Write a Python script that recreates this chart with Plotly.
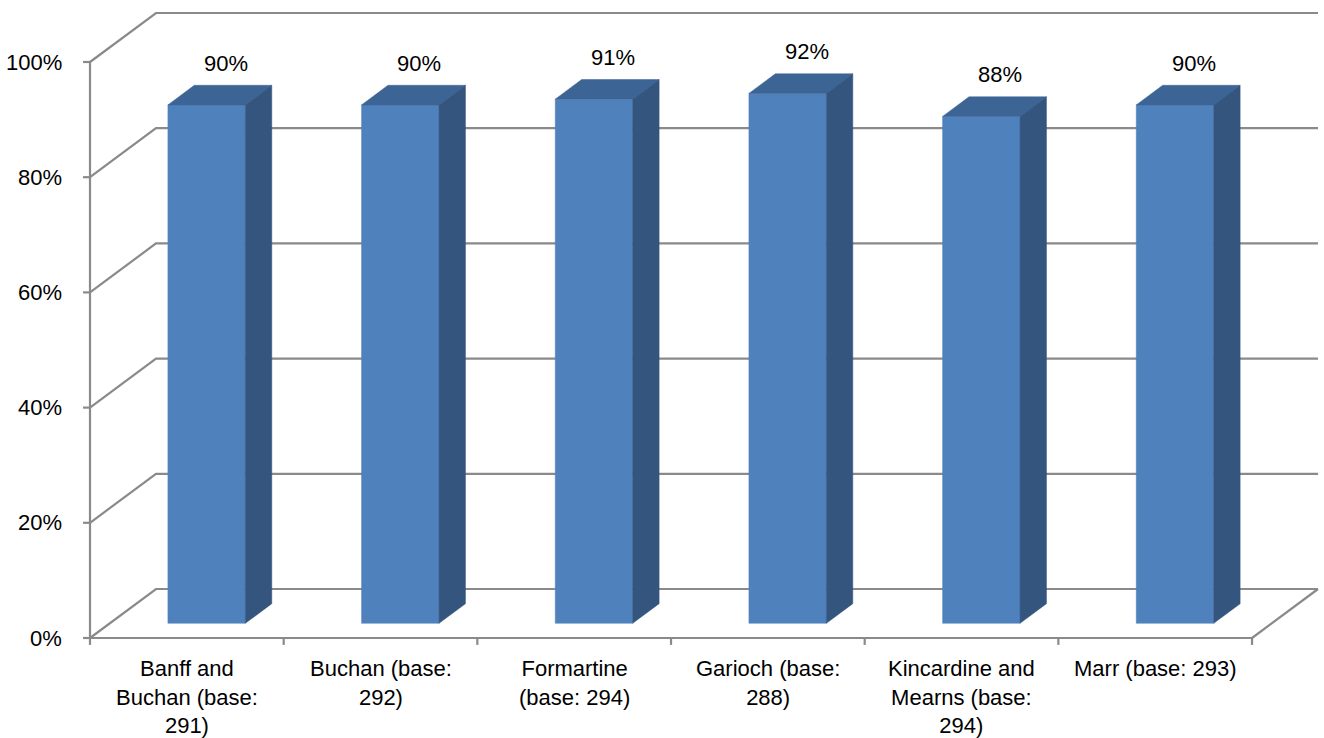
import plotly.graph_objects as go

# Survey results by area (share of respondents, %)
categories = [
    "Banff and<br>Buchan (base:<br>291)",
    "Buchan (base:<br>292)",
    "Formartine<br>(base: 294)",
    "Garioch (base:<br>288)",
    "Kincardine and<br>Mearns (base:<br>294)",
    "Marr (base: 293)",
]
values = [90, 90, 91, 92, 88, 90]
y_ticks = [0, 20, 40, 60, 80, 100]
y_tick_labels = ["0%", "20%", "40%", "60%", "80%", "100%"]

# Oblique 3D projection: depth offset per unit of depth, in axis units
DX = 0.3408   # horizontal shift of the back wall (category units)
DY = 8.507    # vertical shift of the back wall (percent units)
BAR_HALF = 0.2
D_FRONT, D_BACK = 0.3, 0.7

GRID = "#8a8a8a"
FRONT = "#4f81bd"
TOP = "#3c6494"
SIDE = "#34557e"
FONT = "Liberation Sans"

n = len(categories)
fig = go.Figure()


def line(xs, ys, color=GRID, width=2.2):
    fig.add_trace(go.Scatter(x=xs, y=ys, mode="lines",
                             line=dict(color=color, width=width),
                             hoverinfo="skip", showlegend=False))


def poly(xs, ys, color):
    fig.add_trace(go.Scatter(x=xs + [xs[0]], y=ys + [ys[0]], mode="lines",
                             fill="toself", fillcolor=color,
                             line=dict(color=color, width=0.5),
                             hoverinfo="skip", showlegend=False))


# Left wall diagonals and back wall gridlines
for t in y_ticks:
    line([0, DX, n + DX], [t, t + DY, t + DY])

# Floor: right edge
line([n, n + DX], [0, DY])

# Bars (front face, top, right side)
for i, v in enumerate(values):
    c = i + 0.5
    xl, xr = c - BAR_HALF, c + BAR_HALF
    fx, fy = D_FRONT * DX, D_FRONT * DY
    bx, by = D_BACK * DX, D_BACK * DY
    poly([xl + fx, xr + fx, xr + fx, xl + fx], [fy, fy, v + fy, v + fy], FRONT)
    poly([xl + fx, xr + fx, xr + bx, xl + bx], [v + fy, v + fy, v + by, v + by], TOP)
    poly([xr + fx, xr + bx, xr + bx, xr + fx], [fy, by, v + by, v + fy], SIDE)
    fig.add_annotation(x=c + 0.59 * DX, y=v + by, xref="x", yref="y",
                       text=f"{v}%", showarrow=False, yanchor="middle",
                       yshift=22, font=dict(family=FONT, size=22, color="black"))

# Front axis lines and tick marks
line([0, 0], [0, y_ticks[-1]])
line([0, n], [0, 0])
for t in y_ticks:
    line([-0.036, 0], [t, t])
for k in range(n + 1):
    line([k, k], [0, -1.2])

# Axis labels
for t, lab in zip(y_ticks, y_tick_labels):
    fig.add_annotation(x=0, y=t, xref="x", yref="y", text=lab, showarrow=False,
                       xanchor="right", yanchor="middle", xshift=-26,
                       font=dict(family=FONT, size=22, color="black"))
for i, lab in enumerate(categories):
    fig.add_annotation(x=i + 0.5, y=0, xref="x", yref="y", text=lab,
                       showarrow=False, xanchor="center", yanchor="top",
                       yshift=-16, align="center",
                       font=dict(family=FONT, size=22, color="black"))

fig.update_layout(
    width=1324, height=738,
    margin=dict(l=80, r=0, t=5, b=88),
    paper_bgcolor="white", plot_bgcolor="white",
    xaxis=dict(range=[-0.05163, 6.3716], visible=False, fixedrange=True),
    yaxis=dict(range=[-2.0833, 109.896], visible=False, fixedrange=True),
    showlegend=False,
)

fig.write_html("out.html")
